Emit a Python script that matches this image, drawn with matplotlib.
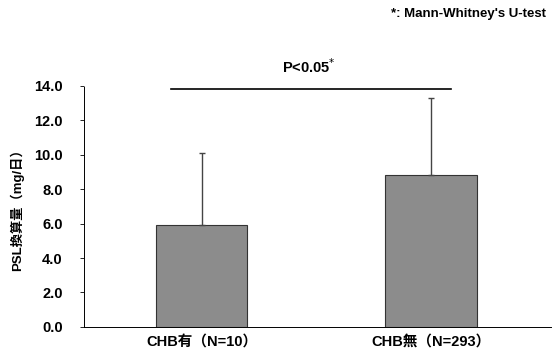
import matplotlib
matplotlib.use("Agg")
import matplotlib.pyplot as plt

plt.rcParams['font.family'] = ['Liberation Sans', 'Noto Sans CJK JP']

# data
groups = ["CHB有（N=10）", "CHB無（N=293）"]
means = [5.9, 8.8]
sds = [4.2, 4.5]
yticks = [0, 2, 4, 6, 8, 10, 12, 14]
sig_y = 13.8

fig = plt.figure(figsize=(5.53, 3.64), dpi=100)
ax = fig.add_axes([0.151, 0.102, 0.845, 0.662])

x = [0, 1]
ax.bar(x, means, width=0.4, color="#8c8c8c", edgecolor="#333333", linewidth=0.8, zorder=2)
ax.errorbar(x, means, yerr=[[0, 0], sds], fmt="none", ecolor="#444444",
            elinewidth=1.0, capsize=2, capthick=1.0, zorder=3)

ax.set_xlim(-0.515, 1.524)
ax.set_ylim(0, 14)
ax.set_yticks(yticks)
ax.set_yticklabels([f"{v:.1f}" for v in yticks], fontsize=10.5, fontweight="bold")
ax.set_xticks(x)
ax.set_xticklabels(groups, fontsize=10.5, fontweight="bold")
ax.tick_params(axis="x", length=0, pad=6)
ax.tick_params(axis="y", length=3, width=0.6, pad=12)

for s in ["top", "right"]:
    ax.spines[s].set_visible(False)
ax.spines["left"].set_linestyle((0, (1, 1)))
ax.spines["left"].set_linewidth(0.7)
ax.spines["bottom"].set_linestyle((0, (2, 1)))
ax.spines["bottom"].set_linewidth(0.7)

ax.set_ylabel("PSL換算量（mg/日）", fontsize=9.5, fontweight="bold", labelpad=7)

# significance bar
ax.plot([-0.135, 1.09], [sig_y, sig_y], color="black", linewidth=1.2, clip_on=False)
ax.text(0.47, sig_y + 0.75, "P<0.05$^{*}$", ha="center", va="bottom", fontsize=10.5, fontweight="bold")

fig.text(0.987, 0.962, "*: Mann-Whitney's U-test", ha="right", va="center", fontsize=9.5, fontweight="bold")

fig.savefig("out.png", dpi=100)
